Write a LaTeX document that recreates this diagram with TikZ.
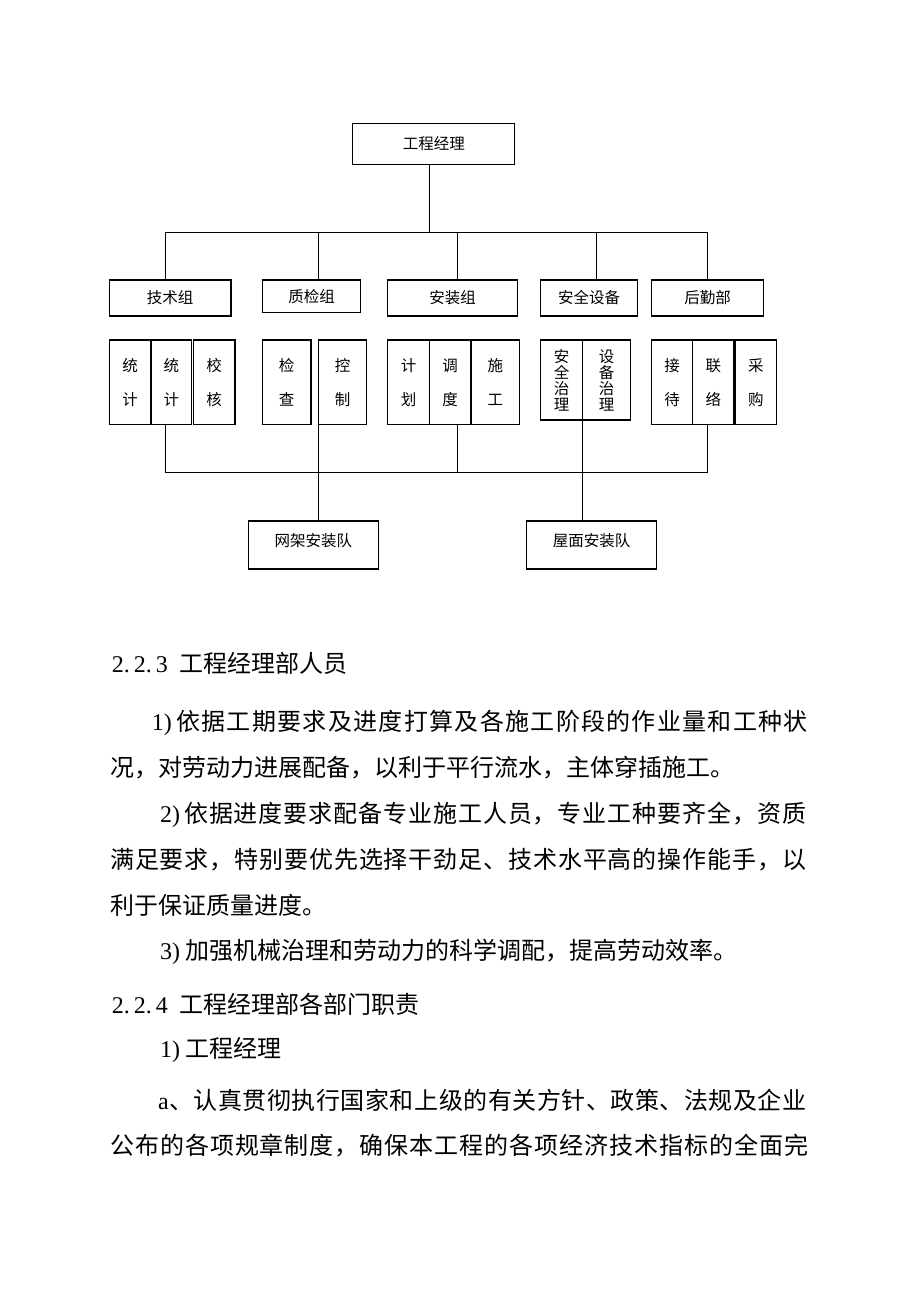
\documentclass[tikz,border=0pt]{standalone}
\usepackage{fontspec}
\setmainfont{Noto Sans CJK SC}
\newfontfamily\latn{Liberation Serif}
\usepackage{tikz}
\usetikzlibrary{positioning}
\newcommand\orgfont{\fontsize{15.5pt}{18pt}\selectfont}
\newcommand\pairfont{\fontsize{15.5pt}{34pt}\selectfont}
\newcommand\quadfont{\fontsize{15.5pt}{16pt}\selectfont}
\newcommand\parafont{\fontsize{24pt}{30pt}\selectfont}
% a full line of text, spread out to the given width
\ExplSyntaxOn
\NewDocumentCommand\spreadline{mm}{
  \hbox_to_wd:nn {#1} {
    \tl_map_inline:nn {#2} { {##1} \skip_horizontal:n {0pt~plus~1fil} }
    \skip_horizontal:n {0pt~plus~-1fil}
  }
}
\ExplSyntaxOff
\tikzstyle{link} = [draw, line width=1pt]
\tikzset{
  boss/.style={
    rectangle, 
    minimum width=162pt, 
    minimum height=41pt,
    draw=black, 
    line width=1.2pt,
    font=\orgfont
    },
  unit/.style={
    rectangle, 
    minimum height=36pt, 
    inner sep=0pt,
    draw=black, 
    line width=1.2pt,
    font=\orgfont
    },
  duty/.style={
    rectangle, 
    minimum width=42pt, 
    minimum height=84.7pt, 
    inner sep=0pt,
    outer sep=0pt,
    align=center,
    draw=black, 
    line width=1.2pt,
    font=\pairfont
    },
  crew/.style={
    rectangle, 
    minimum width=130pt, 
    minimum height=48pt,
    text depth=10pt,
    draw=black, 
    line width=1.2pt,
    font=\orgfont
    },
  para/.style={anchor=base west, inner sep=0pt, font=\parafont},
}

\begin{document}
\begin{tikzpicture}[
            x = 1pt, % one pixel of the page
            y = -1pt, % rows counted downwards
        ]
         \path[fill=white] (0,0) rectangle (920,1302);
         \useasboundingbox (0,0) rectangle (920,1302);

         % chart
         \node[boss] (pm) at (433.8,143.7) {工程经理};

         \node[unit, minimum width=121.7pt] (tech) at (170.2,298) {技术组};
         \node[unit, minimum width=98.4pt, minimum height=32.3pt] (qc) at (311.5,296.2) {质检组};
         \node[unit, minimum width=129.8pt] (inst) at (452.5,298) {安装组};
         \node[unit, minimum width=97pt] (safe) at (589.2,298) {安全设备};
         \node[unit, minimum width=111.6pt] (logi) at (707.5,298) {后勤部};

         \node[duty, minimum width=41.7pt] (stat1) at (130.2,382.4) {统\\计};
         \node[duty, minimum width=40.7pt, right=0pt of stat1] (stat2) {统\\计};
         \node[duty, minimum width=41.7pt, right=1.6pt of stat2] (verify) {校\\核};

         \node[duty, minimum width=48.7pt] (inspect) at (286.7,382.4) {检\\查};
         \node[duty, minimum width=48.4pt, right=7.3pt of inspect] (control) {控\\制};

         \node[duty, minimum width=41.6pt] (plan) at (408.5,382.4) {计\\划};
         \node[duty, minimum width=41.7pt, right=0pt of plan] (dispatch) {调\\度};
         \node[duty, minimum width=47.6pt, right=0.6pt of dispatch] (build) {施\\工};

         \node[duty, minimum width=41.6pt, minimum height=80pt, font=\quadfont] (safemgmt) at (561.5,380) {安\\全\\治\\理};
         \node[duty, minimum width=48.4pt, minimum height=80pt, font=\quadfont, right=0pt of safemgmt] (equipmgmt) {设\\备\\治\\理};

         \node[duty, minimum width=41pt] (reception) at (672.2,382.4) {接\\待};
         \node[duty, minimum width=41.3pt, right=0pt of reception] (liaison) {联\\络};
         \node[duty, minimum width=41.7pt, right=1pt of liaison] (purchase) {采\\购};

         \node[crew] (grid) at (313.3,545) {网架安装队};
         \node[crew] (roof) at (591.7,545) {屋面安装队};

         \draw[link] ([xshift=-4.5pt]pm.south) -- ++(0,67.7) coordinate (fork);
         \draw[link] (fork) -| ([xshift=-5.2pt]tech.north);
         \draw[link] (fork) -| ([xshift=6.8pt]qc.north);
         \draw[link] (fork) -| ([xshift=4.8pt]inst.north);
         \draw[link] (fork) -| ([xshift=7.1pt]safe.north);
         \draw[link] (fork) -| (logi.north);

         \draw[link] ([xshift=-6.4pt]stat2.south) -- ++(0,48) -| ([xshift=-5.6pt]liaison.south);
         \draw[link] ([xshift=7.2pt]dispatch.south) -- ++(0,48);
         \draw[link] (control.south west) -- (control.south west |- grid.north);
         \draw[link] (safemgmt.south east) -- (safemgmt.south east |- roof.north);

         % text below the chart
         \node[para] (h3) at (111.7,672) {{\latn 2.\hspace{4pt}2.\hspace{4pt}3}\hspace{12pt}工程经理部人员};
         \node[para] (p1a) at (151.7,730) {\spreadline{656pt}{{\latn 1)\hspace{3pt}}依据工期要求及进度打算及各施工阶段的作业量和工种状}};
         \node[para] (p1b) at (110,776) {况，对劳动力进展配备，以利于平行流水，主体穿插施工。};
         \node[para] (p2a) at (160,822) {\spreadline{646pt}{{\latn 2)\hspace{3pt}}依据进度要求配备专业施工人员，专业工种要齐全，资质}};
         \node[para] (p2b) at (110,868) {\spreadline{696pt}{满足要求，特别要优先选择干劲足、技术水平高的操作能手，以}};
         \node[para] (p2c) at (110,914) {利于保证质量进度。};
         \node[para] (p3) at (160,959) {{\latn 3)}\hspace{5pt}加强机械治理和劳动力的科学调配，提高劳动效率。};
         \node[para] (h4) at (111.7,1013) {{\latn 2.\hspace{4pt}2.\hspace{4pt}4}\hspace{12pt}工程经理部各部门职责};
         \node[para] (d1) at (160,1057) {{\latn 1)}\hspace{5pt}工程经理};
         \node[para] (d1a) at (158,1109) {\spreadline{648pt}{{\latn a}、认真贯彻执行国家和上级的有关方针、政策、法规及企业}};
         \node[para] (d1b) at (110,1154) {\spreadline{698pt}{公布的各项规章制度，确保本工程的各项经济技术指标的全面完}};
  \end{tikzpicture}
\end{document}
